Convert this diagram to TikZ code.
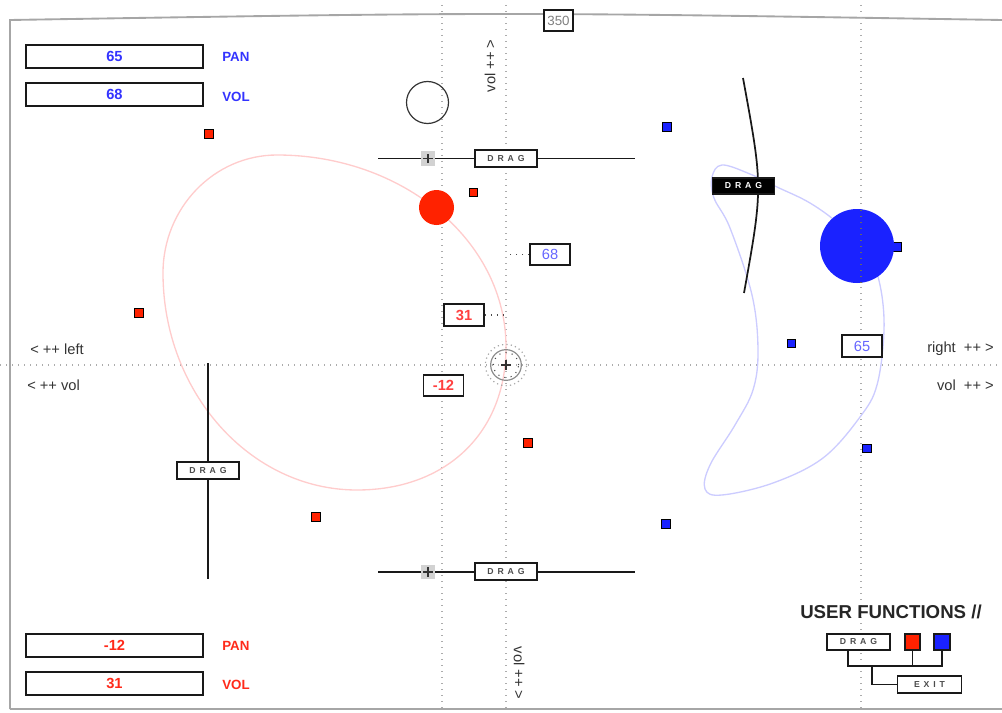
\documentclass[tikz,border=0pt]{standalone}
\usepackage{fontspec}
\setmainfont{Liberation Sans}
\newfontfamily\dragfont[LetterSpace=45]{Liberation Sans}
\definecolor{pblue}{HTML}{3333FF}
\definecolor{lblue}{HTML}{6666FF}
\definecolor{pred}{HTML}{FF2A1A}
\definecolor{lred}{HTML}{FF4040}
\definecolor{sred}{HTML}{FF2200}
\definecolor{sblue}{HTML}{1A22FF}
\definecolor{pinkline}{HTML}{FFCCCC}
\definecolor{lavline}{HTML}{CCCCFF}
\tikzset{
 dotl/.style={gray!65, line width=0.9pt, dash pattern=on 0.9pt off 3.6pt},
 frame/.style={gray!70, line width=1.4pt},
 valbox/.style={draw=black!90, line width=1.4pt, fill=white, minimum width=132.5pt, minimum height=17.25pt, inner sep=0pt, font=\bfseries\fontsize{11}{12}\selectfont},
 numbox/.style={draw=black!90, line width=1.4pt, fill=white, minimum width=30pt, minimum height=16pt, inner sep=0pt, font=\fontsize{11}{12}\selectfont},
 dragbox/.style={draw=black!90, line width=1.4pt, fill=white, minimum width=46.5pt, minimum height=12.5pt, inner sep=0pt, font=\dragfont\bfseries\fontsize{6.5}{7}\selectfont, text=black!70},
 tag/.style={font=\bfseries\fontsize{10}{12}\selectfont, anchor=west, inner sep=0pt},
 axlabel/.style={font=\fontsize{11}{12}\selectfont, text=black!80, inner sep=0pt},
 rsq/.style={draw=black, line width=0.9pt, fill=sred, minimum size=6.4pt, inner sep=0pt},
 bsq/.style={draw=black, line width=0.9pt, fill=sblue, minimum size=6.4pt, inner sep=0pt},
 knob/.style={fill=gray!35, minimum size=11pt, inner sep=0pt},
 conn/.style={draw=black!90, line width=1.4pt},
 slider/.style={draw=black!90, line width=1.3pt},
}
\begin{document}
\begin{tikzpicture}[x=0.75pt,y=-0.75pt]
\useasboundingbox (0,0) rectangle (1002,713);
% frame
\draw[frame] (10,709) -- (10,20) .. controls (505,12) .. (1002,20);
\draw[frame] (10,709) -- (1002,709);
% dotted axes
\draw[dotl] (442,5) -- (442,713);
\draw[dotl] (506,5) -- (506,713);
\draw[dotl] (861,5) -- (861,713);
\draw[dotl] (0,365) -- (1002,365);
% red orbit
\draw[pinkline, line width=1pt] (277,155) .. controls (403,155) and (506,241) .. (506,347)
  .. controls (506,433) and (446,490) .. (357,490)
  .. controls (250,490) and (163,392) .. (163,273)
  .. controls (163,208) and (214,155) .. (277,155) -- cycle;
% blue orbit
\draw[lavline, line width=1pt] plot[smooth cycle, tension=0.6] coordinates {
 (712,177) (722,165) (750,174) (777,187) (810,203) (840,225) (868,255) (880,285)
 (884,330) (877,385) (860,417) (823,458) (773,483) (722,495) (705,489) (710,465)
 (735,425) (753,390) (758,350) (752,295) (730,228) (714,198)};
% value boxes top-left
\node[valbox, text=pblue] (pan1) at (114.5,56.5) {65};
\node[tag, text=pblue] (pan1t) at (222,57) {PAN};
\node[valbox, text=pblue] (vol1) at (114.5,94.5) {68};
\node[tag, text=pblue] (vol1t) at (222,97) {VOL};
% value boxes bottom-left
\node[valbox, text=pred] (pan2) at (114.5,645.5) {-12};
\node[tag, text=pred] (pan2t) at (222,645.5) {PAN};
\node[valbox, text=pred] (vol2) at (114.5,683.5) {31};
\node[tag, text=pred] (vol2t) at (222,685) {VOL};
% 350
\node[numbox, minimum width=22pt, text=gray, font=\fontsize{10}{12}\selectfont] (top) at (558.5,20.5) {350};
% axis labels
\node[axlabel, rotate=90] (vtop) at (490,66) {vol ++ >};
\node[axlabel, rotate=-90] (vbot) at (519,673) {vol ++ >};
\node[axlabel, anchor=west] (lleft) at (30,349) {< ++ left};
\node[axlabel, anchor=west] (lvol) at (27,385) {< ++ vol};
\node[axlabel, anchor=east] (rright) at (994,349) {right\ \ ++ >};
\node[axlabel, anchor=east] (rvol) at (994,385) {vol\ \ ++ >};
% empty circle
\node[circle, draw=black!80, line width=0.9pt, minimum size=31.5pt, inner sep=0pt] (ec) at (427.5,102.5) {};
% top slider
\coordinate (ts1) at (378,158.5);
\coordinate (ts2) at (635,158.5);
\draw[slider] (ts1) -- (ts2);
\node[knob] (tk) at (428,158.5) {};
\draw[black!80, line width=0.9pt] ([xshift=-3.5pt]tk.center) -- ([xshift=3.5pt]tk.center) ([yshift=-3.5pt]tk.center) -- ([yshift=3.5pt]tk.center);
\node[dragbox] (tdrag) at (506,158.5) {DRAG};
% bottom slider
\coordinate (bs1) at (378,572);
\coordinate (bs2) at (635,572);
\draw[slider] (bs1) -- (bs2);
\node[knob] (bk) at (428,572) {};
\draw[black!80, line width=0.9pt] ([xshift=-3.5pt]bk.center) -- ([xshift=3.5pt]bk.center) ([yshift=-3.5pt]bk.center) -- ([yshift=3.5pt]bk.center);
\node[dragbox] (bdrag) at (506,571.5) {DRAG};
% left slider
\coordinate (ls1) at (208,363);
\coordinate (ls2) at (208,579);
\draw[slider] (ls1) -- (ls2);
\node[dragbox] (ldrag) at (208,470.5) {DRAG};
% right arc slider
\coordinate (ra1) at (743,78);
\coordinate (ra2) at (744,293);
\draw[slider] (ra1) .. controls (763,187) .. (ra2);
\node[dragbox, fill=black, text=white] (rdrag) at (743.5,186) {DRAG};
% red squares
\node[rsq] (r1) at (209,134) {};
\node[rsq] (r2) at (473.5,192.5) {};
\node[rsq] (r3) at (139,313) {};
\node[rsq] (r4) at (528,443) {};
\node[rsq] (r5) at (316,517) {};
% blue squares
\node[bsq] (b1) at (667,127) {};
\node[bsq] (b2) at (897,247) {};
\node[bsq] (b3) at (791.5,343.5) {};
\node[bsq] (b4) at (867,448.5) {};
\node[bsq] (b5) at (666,524) {};
% circles
\node[circle, fill=sred, minimum size=26.25pt, inner sep=0pt] (rc) at (436.5,207.5) {};
\node[circle, fill=sblue, minimum size=55.5pt, inner sep=0pt] (bc) at (857,246) {};
\draw[dotl, black!60] (861,210) -- (861,283);
% crosshair
\node[circle, draw=gray!90, line width=0.9pt, minimum size=23pt, inner sep=0pt] (ch) at (506,365) {};
\node[circle, draw=gray!70, line width=0.9pt, dash pattern=on 0.9pt off 2.4pt, minimum size=31pt, inner sep=0pt] (cho) at (506,365) {};
\node[circle, draw=black!70, line width=0.8pt, dash pattern=on 0.8pt off 4pt, minimum size=19pt, inner sep=0pt] (chi) at (506,365) {};
\draw[black!80, line width=0.9pt] ([xshift=-3.5pt]ch.center) -- ([xshift=3.5pt]ch.center) ([yshift=-3.5pt]ch.center) -- ([yshift=3.5pt]ch.center);
% readout boxes
\node[numbox, text=lblue] (n68) at (550,254.5) {68};
\node[numbox, text=lred, font=\bfseries\fontsize{11}{12}\selectfont] (n31) at (464,315) {31};
\node[numbox, text=lred, font=\bfseries\fontsize{11}{12}\selectfont] (n12) at (443.5,385.5) {-12};
\node[numbox, text=lblue] (n65) at (862,346) {65};
\draw[dotl, black!70] (n68.west) -- (n68.west -| ch.center);
\draw[dotl, black!70] (n31.east) -- (n31.east -| ch.center);
% user functions
\node[font=\bfseries\fontsize{14}{16}\selectfont, text=black!85, inner sep=0pt] (uf) at (891,612) {USER FUNCTIONS //};
\node[dragbox, minimum width=47.5pt] (udrag) at (858.5,642) {DRAG};
\node[draw=black!90, line width=1.4pt, fill=sred, minimum width=11.5pt, minimum height=12.25pt, inner sep=0pt] (ured) at (912.5,642) {};
\node[draw=black!90, line width=1.4pt, fill=sblue, minimum width=11.5pt, minimum height=12.25pt, inner sep=0pt] (ublue) at (942,642) {};
\node[dragbox, minimum width=48pt, minimum height=13pt] (uexit) at (929.5,684.5) {EXIT};
\coordinate (j1) at (848,666);
\coordinate (j2) at (872,666);
\draw[conn] (udrag.south -| j1) -- (j1) -- (j1 -| ublue.south) -- (ublue.south);
\draw[conn] (ured.south) -- (ured.south |- j1);
\draw[conn] (j2) |- (uexit.west);
\end{tikzpicture}
\end{document}
